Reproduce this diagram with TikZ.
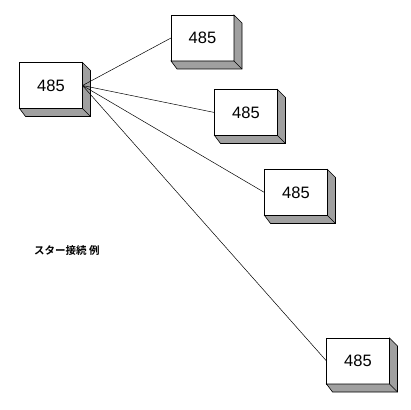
\documentclass[tikz,border=0pt]{standalone}
\usepackage{fontspec}
\setmainfont{Liberation Sans}
\newfontfamily\cjk[BoldFont={Noto Sans CJK JP Bold}]{Noto Sans CJK JP}
\definecolor{sidegray}{HTML}{A0A0A0}
\begin{document}
\begin{tikzpicture}[x=1pt,y=-1pt,
  box/.style={draw,fill=white,minimum width=63pt,minimum height=46pt,inner sep=0pt,outer sep=0pt,font=\fontsize{16.5}{18}\selectfont,line width=0.6pt},
  side/.style={draw,fill=sidegray,line width=0.6pt},
  wire/.style={line width=0.5pt}]
\useasboundingbox (0,0) rectangle (411,409);
\node[box] (a) at (51,85.5) {485};
\node[box] (b) at (202.5,38) {485};
\node[box] (c) at (246,112.5) {485};
\node[box] (d) at (296,192.5) {485};
\node[box] (e) at (358,361) {485};
\foreach \n in {a,b,c,d,e}{
  \path[side] (\n.south west) -- ([shift={(6pt,-8pt)}]\n.south west) -- ([shift={(8pt,-8pt)}]\n.south east) -- ([shift={(8pt,-8pt)}]\n.north east) -- (\n.north east) -- (\n.south east) -- cycle;
  \draw[line width=0.6pt] (\n.south east) -- ([shift={(8pt,-8pt)}]\n.south east);
}
\foreach \n in {b,c,d,e}{
  \draw[wire] (a.east) -- (\n.west);
}
\node[font=\cjk\bfseries\fontsize{10.5}{12}\selectfont,anchor=west,inner sep=0pt] (t) at (34,251) {スター接続\ 例};
\end{tikzpicture}
\end{document}
